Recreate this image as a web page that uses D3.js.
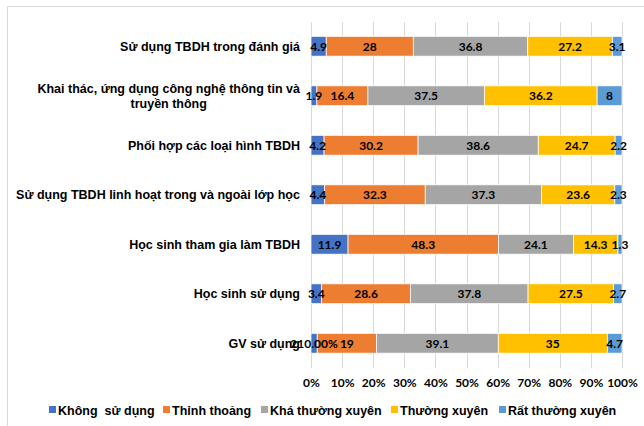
<!DOCTYPE html>
<html lang="vi">
<head>
<meta charset="utf-8">
<title>Stacked bar</title>
<script src="https://cdn.jsdelivr.net/npm/d3@7"></script>
<style>
  body { margin: 0; background: #fff; }
  .cat { font-family: "Liberation Sans", Arial, sans-serif; font-weight: bold; font-size: 12.5px; fill: #000; }
  .val { font-family: Lato, "Open Sans", sans-serif; font-weight: bold; font-size: 12px; fill: #000; }
  .tick text { font-family: Lato, "Open Sans", sans-serif; font-weight: bold; font-size: 12px; fill: #000; }
  .grid line { stroke: #d9d9d9; shape-rendering: crispEdges; }
  .grid path { stroke-width: 0; }
  .leg { font-family: "Liberation Sans", Arial, sans-serif; font-weight: bold; font-size: 12.5px; fill: #000; white-space: pre; }
</style>
</head>
<body>
<script>
// categories, top to bottom
var categories = [
  "Sử dụng TBDH trong đánh giá",
  "Khai thác, ứng dụng công nghệ thông tin và\ntruyền thông",
  "Phối hợp các loại hình TBDH",
  "Sử dụng TBDH linh hoạt trong và ngoài lớp học",
  "Học sinh tham gia làm TBDH",
  "Học sinh sử dụng",
  "GV sử dụng"
];
var seriesNames = ["Không  sử dụng", "Thỉnh thoảng", "Khá thường xuyên", "Thường xuyên", "Rất thường xuyên"];
var khongSuDung   = [4.9, 1.9, 4.2, 4.4, 11.9, 3.4, 2];
var thinhThoang   = [28, 16.4, 30.2, 32.3, 48.3, 28.6, 19];
var khaThuongXuyen = [36.8, 37.5, 38.6, 37.3, 24.1, 37.8, 39.1];
var thuongXuyen   = [27.2, 36.2, 24.7, 23.6, 14.3, 27.5, 35];
var ratThuongXuyen = [3.1, 8, 2.2, 2.3, 1.3, 2.7, 4.7];
// the blue label on the last row reads oddly in the source
var khongSuDungLabels = ["4.9", "1.9", "4.2", "4.4", "11.9", "3.4", "210.00%"];
var tickLabels = ["0%", "10%", "20%", "30%", "40%", "50%", "60%", "70%", "80%", "90%", "100%"];

var colors = ["#4472C4", "#ED7D31", "#A5A5A5", "#FFC000", "#5B9BD5"];

var w = 644, h = 426;
var plotLeft = 311, plotRight = 622, plotTop = 21.5, plotBottom = 368;

var svg = d3.select("body").append("svg")
  .attr("width", w).attr("height", h);

// chart frame
svg.append("rect")
  .attr("x", 7.5).attr("y", 6.5)
  .attr("width", 700).attr("height", 500)
  .attr("fill", "#fff").attr("stroke", "#d9d9d9");

var allSeries = [khongSuDung, thinhThoang, khaThuongXuyen, thuongXuyen, ratThuongXuyen];
var rows = categories.map(function(c, i) {
  var o = { cat: c };
  seriesNames.forEach(function(s, k) { o[s] = allSeries[k][i]; });
  o.total = d3.sum(allSeries, function(a) { return a[i]; });
  return o;
});

var stack = d3.stack().keys(seriesNames)
  .value(function(d, key) { return d[key] / d.total; });
var layers = stack(rows);

var x = d3.scaleLinear().domain([0, 1]).range([plotLeft, plotRight]);
var y = d3.scaleBand().domain(categories).range([plotTop, plotBottom]).paddingInner(0.6).paddingOuter(0.3);

// gridlines
svg.append("g")
  .attr("class", "grid")
  .attr("transform", "translate(0," + plotBottom + ")")
  .call(d3.axisBottom(x).tickValues(d3.range(0, 1.01, 0.1)).tickSize(-(plotBottom - plotTop)).tickFormat(""));

// bars
var g = svg.append("g");
layers.forEach(function(layer, k) {
  g.selectAll(".s" + k)
    .data(layer)
    .enter().append("rect")
    .attr("x", function(d) { return x(d[0]); })
    .attr("y", function(d) { return y(d.data.cat); })
    .attr("width", function(d) { return x(d[1]) - x(d[0]); })
    .attr("height", y.bandwidth())
    .attr("fill", colors[k])
    .attr("stroke", "#fff")
    .attr("stroke-width", 0.75);
});

// value labels
layers.forEach(function(layer, k) {
  g.selectAll(".v" + k)
    .data(layer)
    .enter().append("text")
    .attr("class", "val")
    .attr("x", function(d) { return (x(d[0]) + x(d[1])) / 2; })
    .attr("y", function(d) { return y(d.data.cat) + y.bandwidth() / 2; })
    .attr("dy", "0.36em")
    .attr("text-anchor", "middle")
    .text(function(d, i) { return k === 0 ? khongSuDungLabels[i] : String(allSeries[k][i]); });
});

// category labels
categories.forEach(function(c) {
  var lines = c.split("\n");
  var cy = y(c) + y.bandwidth() / 2;
  var t = svg.append("text").attr("class", "cat").attr("text-anchor", "middle");
  lines.forEach(function(l, j) {
    t.append("tspan").text(l)
      .attr("x", 0)
      .attr("y", cy + (j - (lines.length - 1) / 2) * 15)
      .attr("dy", "0.36em");
  });
  // right-align the block at x=300, lines centred in it
  var bw = t.node().getBBox().width;
  t.selectAll("tspan").attr("x", 300 - bw / 2);
});

// x axis tick labels
svg.append("g")
  .attr("transform", "translate(0," + plotBottom + ")")
  .call(d3.axisBottom(x).tickValues(d3.range(0, 1.01, 0.1)).tickSize(0).tickPadding(10)
    .tickFormat(function(d, i) { return tickLabels[i]; }))
  .call(function(a) { a.select(".domain").remove(); });

// legend
var legX = [49, 163, 261, 391, 499];
var leg = svg.append("g");
seriesNames.forEach(function(s, k) {
  leg.append("rect").attr("x", legX[k]).attr("y", 406).attr("width", 7).attr("height", 7).attr("fill", colors[k]);
  leg.append("text").attr("class", "leg").attr("x", legX[k] + 9).attr("y", 410).attr("dy", "0.36em").text(s);
});
</script>
</body>
</html>
